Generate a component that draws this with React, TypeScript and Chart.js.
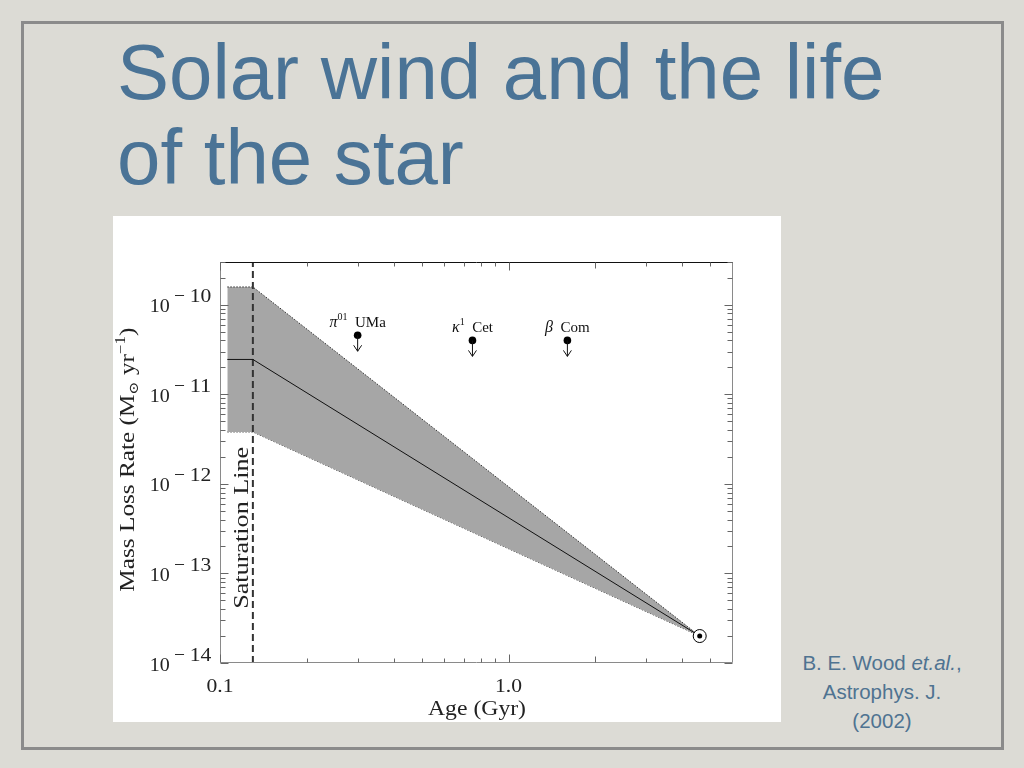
import React, { useEffect, useRef } from "react";
import { Chart, registerables } from "chart.js";

Chart.register(...registerables);

// ---- data ----
const bandAges = [0.106, 0.13, 4.6];
const bandUpper = [1.58e-10, 1.58e-10, 2e-14];
const bandLower = [3.8e-12, 3.8e-12, 2e-14];
const trendRates = [2.45e-11, 2.45e-11, 2e-14];
const saturationAge = 0.13;
const starGreek = ["π", "κ", "β"];
const starSup = ["01", "1", ""];
const starNames = ["UMa", "Cet", "Com"];
const starAges = [0.3, 0.75, 1.6];
const starRates = [4.56e-11, 4.0e-11, 4.0e-11];
const sunAge = 4.6;
const sunRate = 2e-14;
const xTickVals = [0.1, 1.0];
const xTickLabels = ["0.1", "1.0"];
const xMinorTicks = [0.2, 0.3, 0.4, 0.5, 0.6, 0.7, 0.8, 0.9, 2, 3, 4, 5];
const yTickVals = [1e-10, 1e-11, 1e-12, 1e-13, 1e-14];
const yTickExps = ["−10", "−11", "−12", "−13", "−14"];
const xMin = 0.1, xMax = 6, yMin = 1e-14, yMax = 3e-10;

const SERIF = '"Liberation Serif", "DejaVu Serif", serif';

function fitText(ctx: any, text: string, x: number, y: number, width: number, font: string, align: string) {
  ctx.save();
  ctx.font = font;
  const w = ctx.measureText(text).width;
  const s = width / w;
  ctx.translate(x, y);
  ctx.scale(s, 1);
  ctx.textAlign = align;
  ctx.textBaseline = "alphabetic";
  ctx.fillText(text, 0, 0);
  ctx.restore();
}

// segments: {t, font, dy}; drawn centered at (0,0) baseline, scaled to target width (or natural if 0)
function richText(ctx: any, segs: any[], target: number) {
  let total = 0;
  const widths = segs.map((s) => {
    ctx.font = s.font;
    const w = ctx.measureText(s.t).width;
    total += w;
    return w;
  });
  const sc = target > 0 ? target / total : 1;
  ctx.save();
  ctx.scale(sc, 1);
  let cx = -total / 2;
  ctx.textAlign = "left";
  ctx.textBaseline = "alphabetic";
  segs.forEach((s, i) => {
    ctx.font = s.font;
    ctx.fillText(s.t, cx, s.dy || 0);
    cx += widths[i];
  });
  ctx.restore();
}

const paperPlugin = {
  id: "paperAxes",
  afterDatasetsDraw(chart: any) {
    const { ctx, chartArea: a, scales } = chart;
    const x = scales.x, y = scales.y;
    ctx.save();
    ctx.fillStyle = "#111";

    // arrows + labels for upper-limit stars
    const meta = chart.getDatasetMeta(2);
    meta.data.forEach((pt: any, i: number) => {
      const px = pt.x, py = pt.y;
      ctx.strokeStyle = "#111";
      ctx.lineWidth = 1;
      ctx.beginPath();
      ctx.moveTo(px, py);
      ctx.lineTo(px, py + 16);
      ctx.moveTo(px - 4, py + 10);
      ctx.lineTo(px, py + 16);
      ctx.lineTo(px + 4, py + 10);
      ctx.stroke();
      ctx.save();
      ctx.translate(px, py - 8);
      const segs: any[] = [{ t: starGreek[i], font: `italic 16px ${SERIF}` }];
      if (starSup[i]) segs.push({ t: starSup[i], font: `10px ${SERIF}`, dy: -7 });
      segs.push({ t: "  " + starNames[i], font: `15px ${SERIF}` });
      richText(ctx, segs, 0);
      ctx.restore();
    });

    // frame
    ctx.lineWidth = 1;
    ctx.strokeStyle = "#8a8a8a";
    const L = Math.round(a.left) + 0.5, R = Math.round(a.right) - 0.5;
    const T = Math.round(a.top) + 0.5, B = Math.round(a.bottom) - 0.5;
    ctx.beginPath();
    ctx.moveTo(L, T);
    ctx.lineTo(L, B);
    ctx.lineTo(R, B);
    ctx.lineTo(R, T);
    ctx.stroke();
    ctx.strokeStyle = "#111";
    ctx.beginPath();
    ctx.moveTo(L, T);
    ctx.lineTo(R, T);
    ctx.stroke();

    // y ticks
    ctx.strokeStyle = "#666";
    for (let e = -14; e <= -10; e++) {
      for (let m = 1; m <= 9; m++) {
        const v = m * Math.pow(10, e);
        if (v > yMax * 1.0001 || v < yMin * 0.9999) continue;
        const p = Math.round(y.getPixelForValue(v)) + 0.5;
        const len = m === 1 ? 8 : 5;
        ctx.beginPath();
        ctx.moveTo(L, p);
        ctx.lineTo(L + len, p);
        ctx.moveTo(R, p);
        ctx.lineTo(R - len, p);
        ctx.stroke();
      }
    }
    // x ticks
    const xt = xTickVals.map((v) => ({ v, len: 8 })).concat(xMinorTicks.map((v) => ({ v, len: v === 2 ? 6 : 4 })));
    xt.forEach(({ v, len }) => {
      const p = Math.round(x.getPixelForValue(v)) + 0.5;
      ctx.beginPath();
      ctx.moveTo(p, B);
      ctx.lineTo(p, B - len);
      ctx.moveTo(p, T);
      ctx.lineTo(p, T + len);
      ctx.stroke();
    });

    // y tick labels
    ctx.fillStyle = "#222";
    yTickVals.forEach((v, i) => {
      const p = y.getPixelForValue(v);
      fitText(ctx, "10", a.left - 70.3, p + 7.5, 20, `19px ${SERIF}`, "left");
      fitText(ctx, "−", a.left - 46, p - 2.5, 11, `19px ${SERIF}`, "left");
      fitText(ctx, yTickExps[i].slice(1), a.left - 30.3, p - 2.5, 21.6, `19px ${SERIF}`, "left");
    });
    // x tick labels
    xTickVals.forEach((v, i) => {
      const p = x.getPixelForValue(v);
      fitText(ctx, xTickLabels[i], p, a.bottom + 29, 27, `19px ${SERIF}`, "center");
    });
    // x title
    fitText(ctx, "Age (Gyr)", (a.left + a.right) / 2 + 0.5, a.bottom + 52, 98, `20px ${SERIF}`, "center");

    // y title
    ctx.save();
    ctx.translate(20.7, 243.7);
    ctx.rotate(-Math.PI / 2);
    richText(
      ctx,
      [
        { t: "Mass Loss Rate (M", font: `21px ${SERIF}` },
        { t: "⊙", font: `13px ${SERIF}`, dy: 4 },
        { t: " yr", font: `21px ${SERIF}` },
        { t: "−1", font: `14px ${SERIF}`, dy: -9 },
        { t: ")", font: `21px ${SERIF}` },
      ],
      264
    );
    ctx.restore();

    // saturation line label
    ctx.save();
    ctx.translate(135, 311.8);
    ctx.rotate(-Math.PI / 2);
    richText(ctx, [{ t: "Saturation Line", font: `21px ${SERIF}` }], 162);
    ctx.restore();

    ctx.restore();
  },
};

export default function App() {
  const ref = useRef<HTMLCanvasElement | null>(null);
  useEffect(() => {
    if (!ref.current) return;
    const pts = (xs: number[], ys: number[]) => xs.map((v, i) => ({ x: v, y: ys[i] }));
    const chart = new Chart(ref.current, {
      type: "line",
      data: {
        datasets: [
          {
            data: [{ x: sunAge, y: sunRate }],
            showLine: false,
            pointRadius: 2.5,
            pointBackgroundColor: "#000",
            pointBorderWidth: 0,
          },
          {
            data: [{ x: sunAge, y: sunRate }],
            showLine: false,
            pointRadius: 6.5,
            pointBackgroundColor: "#fff",
            pointBorderColor: "#000",
            pointBorderWidth: 1,
          },
          {
            data: pts(starAges, starRates),
            showLine: false,
            pointRadius: 3.8,
            pointBackgroundColor: "#000",
            pointBorderWidth: 0,
          },
          {
            data: pts(bandAges, trendRates),
            borderColor: "#111",
            borderWidth: 1,
            pointRadius: 0,
            fill: false,
          },
          {
            data: [
              { x: saturationAge, y: yMin },
              { x: saturationAge, y: yMax },
            ],
            borderColor: "#333",
            borderWidth: 2,
            borderDash: [7, 4],
            pointRadius: 0,
            fill: false,
          },
          {
            data: pts(bandAges, bandUpper),
            borderColor: "#333",
            borderWidth: 1,
            borderDash: [1.5, 1.5],
            backgroundColor: "#a6a6a6",
            pointRadius: 0,
            fill: "+1",
          },
          {
            data: pts(bandAges, bandLower),
            borderColor: "#333",
            borderWidth: 1,
            borderDash: [1.5, 1.5],
            pointRadius: 0,
            fill: false,
          },
        ],
      },
      options: {
        animation: false,
        responsive: false,
        devicePixelRatio: 1,
        events: [],
        layout: { padding: { left: 107, top: 46, right: 48, bottom: 59 } },
        plugins: { legend: { display: false }, tooltip: { enabled: false } },
        scales: {
          x: { type: "logarithmic", min: xMin, max: xMax, display: false },
          y: { type: "logarithmic", min: yMin, max: yMax, display: false },
        },
      },
      plugins: [paperPlugin],
    } as any);
    return () => chart.destroy();
  }, []);

  return (
    <div
      style={{
        position: "absolute",
        left: 0,
        top: 0,
        width: 1024,
        height: 768,
        background: "#dcdbd5",
        overflow: "hidden",
      }}
    >
      <div
        style={{
          position: "absolute",
          left: 21,
          top: 21,
          width: 983,
          height: 729,
          border: "3px solid #8b8b8b",
          boxSizing: "border-box",
        }}
      />
      <div
        style={{
          position: "absolute",
          left: 117,
          top: 30,
          fontFamily: '"Liberation Sans", Arial, sans-serif',
          fontSize: 78,
          lineHeight: "85px",
          color: "#4a7396",
          whiteSpace: "nowrap",
        }}
      >
        Solar wind and the life
        <br />
        of the star
      </div>
      <canvas
        ref={ref}
        width={668}
        height={506}
        style={{ position: "absolute", left: 113, top: 216, width: 668, height: 506, background: "#fff" }}
      />
      <div
        style={{
          position: "absolute",
          left: 782,
          top: 648,
          width: 200,
          textAlign: "center",
          fontFamily: '"Liberation Sans", Arial, sans-serif',
          fontSize: 20.5,
          lineHeight: "29px",
          color: "#4f7391",
        }}
      >
        B. E. Wood <i>et.al.</i>,
        <br />
        Astrophys. J.
        <br />
        (2002)
      </div>
    </div>
  );
}
